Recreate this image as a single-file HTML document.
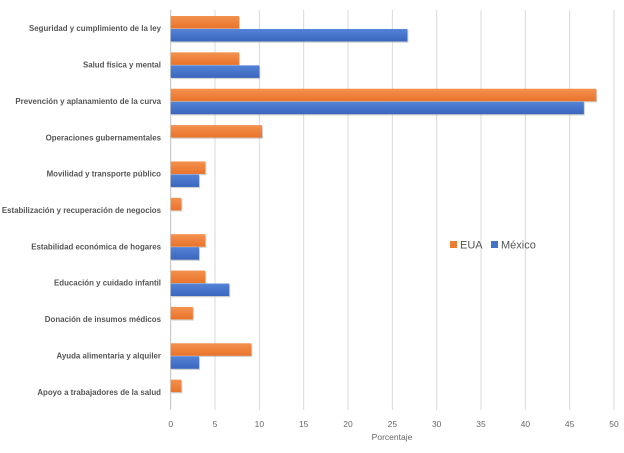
<!DOCTYPE html>
<html><head><meta charset="utf-8"><style>
body{margin:0;background:#fff;}
svg{display:block;font-family:"Liberation Sans",sans-serif;}
</style></head><body>
<svg id="chart" width="624" height="453">
<defs>
<linearGradient id="go" x1="0" y1="0" x2="0" y2="1"><stop offset="0" stop-color="#F4914F"/><stop offset="1" stop-color="#E9732A"/></linearGradient>
<linearGradient id="gb" x1="0" y1="0" x2="0" y2="1"><stop offset="0" stop-color="#5583D6"/><stop offset="1" stop-color="#3A66BE"/></linearGradient>
</defs>
<g id="grid"></g><g id="bars"></g><g id="labels"></g>
<text x="392" y="440" font-size="8.5" fill="#666" text-anchor="middle">Porcentaje</text>
<g>
<rect x="450" y="241" width="7" height="7" fill="#ED7D31"/>
<text x="460" y="248.5" font-size="11" fill="#555">EUA</text>
<rect x="491" y="241" width="7" height="7" fill="#4472C4"/>
<text x="501" y="248.5" font-size="11" fill="#555">México</text>
</g>
</svg>
<script>
const categories=["Seguridad y cumplimiento de la ley","Salud física y mental","Prevención y aplanamiento de la curva","Operaciones gubernamentales","Movilidad y transporte público","Estabilización y recuperación de negocios","Estabilidad económica de hogares","Educación y cuidado infantil","Donación de insumos médicos","Ayuda alimentaria y alquiler","Apoyo a trabajadores de la salud"];
const euaValues=[7.7,7.7,48.0,10.3,3.9,1.2,3.9,3.9,2.5,9.1,1.2];
const mexicoValues=[26.7,10.0,46.6,0,3.2,0,3.2,6.6,0,3.2,0];
const xTicks=[0,5,10,15,20,25,30,35,40,45,50];
const NS="http://www.w3.org/2000/svg";
const x0=170.7,x1=614,plotTop=10,plotBottom=410,band=(plotBottom-plotTop)/categories.length;
function xs(v){return x0+(v/50)*(x1-x0);}
function mk(tag,attrs,parent){const e=document.createElementNS(NS,tag);for(const k in attrs)e.setAttribute(k,attrs[k]);parent.appendChild(e);return e;}
const grid=document.getElementById('grid'),bars=document.getElementById('bars'),labels=document.getElementById('labels');
xTicks.forEach(t=>{
 const l=mk('line',{x1:xs(t),x2:xs(t),y1:plotTop,y2:plotBottom,stroke:t===0?'#bfbfbf':'#d9d9d9','stroke-width':1},grid);
 
 
 const tx=mk('text',{x:xs(t),y:427,'font-size':8.5,fill:'#666','text-anchor':'middle'},labels);
 tx.textContent=t;
 
 
});
categories.forEach((c,i)=>{
 const y=plotTop+i*band;
 const tx=mk('text',{x:161,y:y+band/2+3,'font-size':7.9,'font-weight':'bold',fill:'#555','text-anchor':'end'},labels);
 tx.textContent=c;
 
 
 const h=12.5,yo=y+6,yb=yo+h+0.5;
 if(euaValues[i]>0){
  mk('rect',{x:x0+1,y:yo+1.2,width:xs(euaValues[i])-x0,height:h,fill:'#999',opacity:0.45},bars);
  const r=mk('rect',{x:x0,y:yo,width:xs(euaValues[i])-x0,height:h,fill:'url(#go)'},bars);
  
  
 }
 if(mexicoValues[i]>0){
  mk('rect',{x:x0+1,y:yb+1.2,width:xs(mexicoValues[i])-x0,height:h,fill:'#999',opacity:0.45},bars);
  const r=mk('rect',{x:x0,y:yb,width:xs(mexicoValues[i])-x0,height:h,fill:'url(#gb)'},bars);
  
  
 }
});
</script>
</body></html>
